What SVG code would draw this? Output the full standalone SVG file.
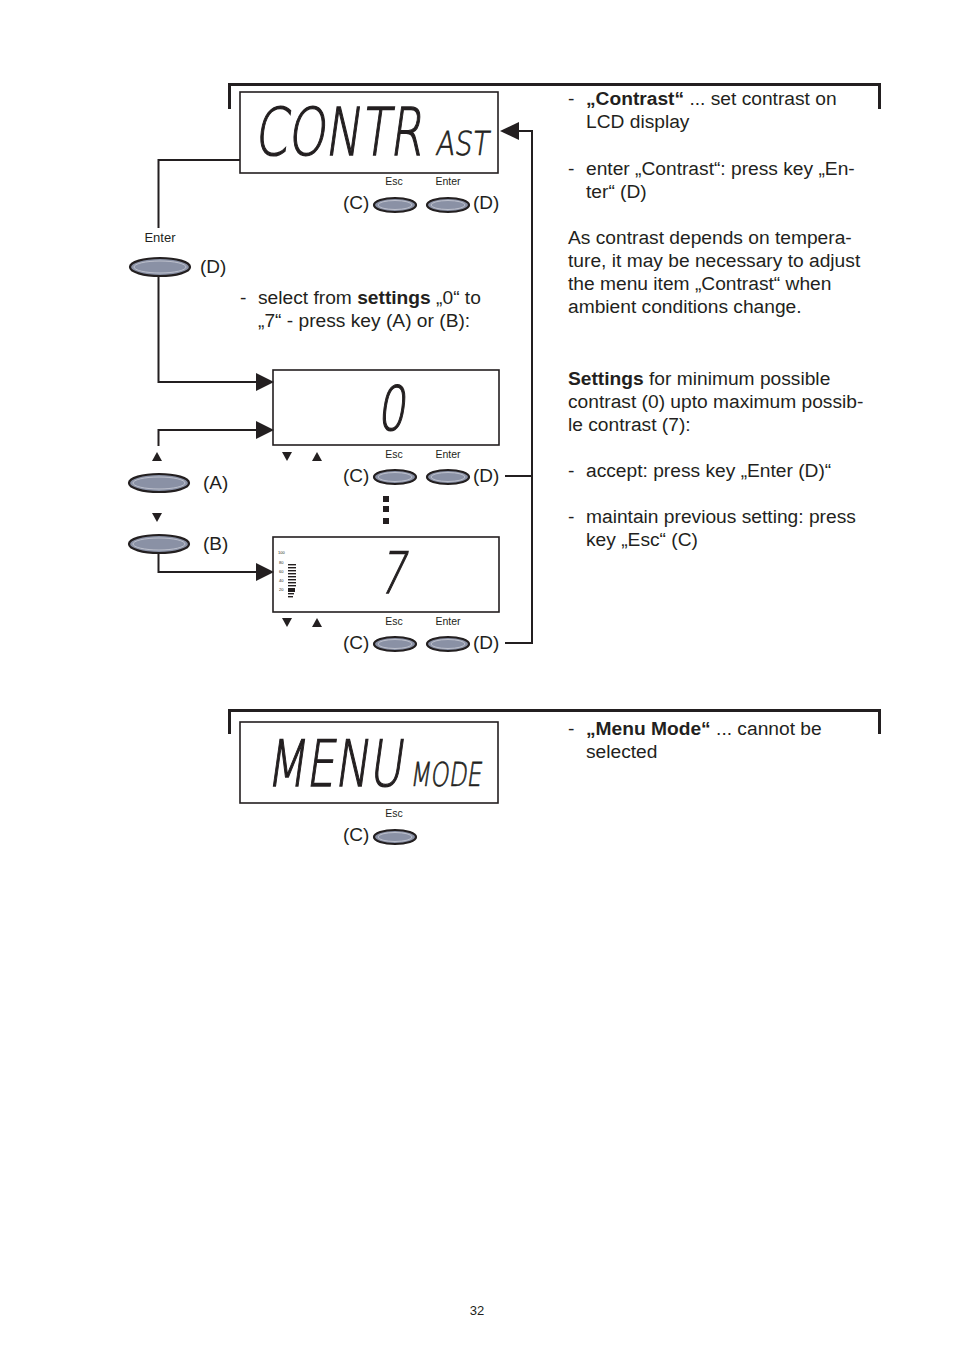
<svg xmlns="http://www.w3.org/2000/svg" width="954" height="1351" viewBox="0 0 954 1351">
<style>
.body{font-family:"Liberation Sans",Arial,sans-serif;font-size:19.2px;fill:#231f20}
.b{font-weight:bold}
.small{font-family:"Liberation Sans",Arial,sans-serif;font-size:10.5px;fill:#231f20}
.lbl{font-family:"Liberation Sans",Arial,sans-serif;font-size:19px;fill:#231f20}
.lcd{fill:none;stroke:#231f20;stroke-width:1.6}
.lcdt{font-family:"DejaVu Sans",sans-serif;font-weight:200;fill:#231f20;stroke:#231f20;stroke-width:1.3}
.lcds{font-family:"DejaVu Sans",sans-serif;font-weight:200;fill:#231f20;stroke:#231f20;stroke-width:0.7}
.bracket{fill:none;stroke:#231f20;stroke-width:3}
.conn{fill:none;stroke:#231f20;stroke-width:2}
.btn{fill:#8a91a5;stroke:#231f20;stroke-width:2.2}
.btnin{fill:none;stroke:#c9ccd6;stroke-width:0.8}
.tri{fill:#231f20}
</style>
<defs>
<g id="btnS"><ellipse class="btn" cx="0" cy="0" rx="21" ry="7"/><ellipse class="btnin" cx="0" cy="0" rx="17" ry="4.5"/></g>
<g id="btnL"><ellipse class="btn" cx="0" cy="0" rx="30" ry="9"/><ellipse class="btnin" cx="0" cy="0" rx="26" ry="6"/></g>
</defs>
<rect width="954" height="1351" fill="#ffffff"/>

<!-- Section 1 bracket -->
<path class="bracket" d="M229.500,109 V84.500 H879.500 V109"/>

<g id="lcd-contrast">
<rect class="lcd" x="240" y="92" width="258" height="81"/>
<text class="lcdt" transform="translate(254,155) skewX(-8)" font-size="66" textLength="168" lengthAdjust="spacingAndGlyphs">CONTR</text>
<text class="lcds" transform="translate(435,155) skewX(-8)" font-size="33" textLength="53" lengthAdjust="spacingAndGlyphs">AST</text>
</g>

<g id="keys-1">
<text class="small" x="394" y="185" text-anchor="middle">Esc</text>
<text class="small" x="448" y="185" text-anchor="middle">Enter</text>
<use href="#btnS" x="395" y="205"/>
<use href="#btnS" x="448" y="205"/>
<text class="lbl" x="343" y="209">(C)</text>
<text class="lbl" x="473" y="209">(D)</text>
</g>

<g id="key-enter">
<text x="160" y="242" text-anchor="middle" style="font-family:'Liberation Sans',Arial,sans-serif;font-size:13px;fill:#231f20">Enter</text>
<use href="#btnL" x="160" y="267"/>
<text class="lbl" x="200" y="273">(D)</text>
</g>

<g id="select-text">
<text class="body" x="240" y="304">-<tspan x="258">select from </tspan><tspan class="b">settings</tspan> „0“ to</text>
<text class="body" x="258" y="327">„7“ - press key (A) or (B):</text>
</g>

<g id="lcd-0">
<rect class="lcd" x="273" y="370" width="226" height="75"/>
<text class="lcdt" transform="translate(377,430) skewX(-8)" font-size="61" textLength="28" lengthAdjust="spacingAndGlyphs">0</text>
</g>

<g id="keys-2">
<polygon class="tri" points="282,452 292,452 287,461"/>
<polygon class="tri" points="312,461 322,461 317,452"/>
<text class="small" x="394" y="458" text-anchor="middle">Esc</text>
<text class="small" x="448" y="458" text-anchor="middle">Enter</text>
<use href="#btnS" x="395" y="477"/>
<use href="#btnS" x="448" y="477"/>
<text class="lbl" x="343" y="482">(C)</text>
<text class="lbl" x="473" y="482">(D)</text>
</g>

<g id="key-a">
<polygon class="tri" points="152,461 162,461 157,452"/>
<use href="#btnL" x="159" y="483"/>
<text class="lbl" x="203" y="489">(A)</text>
</g>

<g id="key-b">
<polygon class="tri" points="152,513 162,513 157,522"/>
<use href="#btnL" x="159" y="544"/>
<text class="lbl" x="203" y="550">(B)</text>
</g>

<g id="dots">
<rect x="383" y="496" width="6" height="6" fill="#231f20"/>
<rect x="383" y="506" width="6" height="6" fill="#231f20"/>
<rect x="383" y="518" width="6" height="6" fill="#231f20"/>
</g>

<g id="lcd-7">
<rect class="lcd" x="273" y="537" width="226" height="75"/>
<text class="lcdt" transform="translate(378,593) skewX(-12)" font-size="57" textLength="26" lengthAdjust="spacingAndGlyphs">7</text>
<g font-family="Liberation Sans,Arial,sans-serif" font-size="4" fill="#231f20">
<text x="278" y="554">100</text>
<text x="279" y="564">80</text>
<text x="279" y="573">60</text>
<text x="279" y="582">40</text>
<text x="279" y="591">20</text>
</g>
<g fill="#231f20">
<rect x="288" y="564" width="8" height="1.4"/>
<rect x="288" y="567" width="8" height="1.4"/>
<rect x="288" y="570" width="8" height="1.4"/>
<rect x="288" y="573" width="8" height="1.4"/>
<rect x="288" y="576" width="8" height="1.4"/>
<rect x="288" y="579" width="8" height="1.4"/>
<rect x="288" y="582" width="8" height="1.4"/>
<rect x="288" y="585" width="8" height="1.4"/>
<rect x="288" y="588" width="7" height="4"/>
<rect x="288" y="593" width="6" height="1.4"/>
<rect x="288" y="596" width="5" height="1.4"/>
</g>
</g>

<g id="keys-3">
<polygon class="tri" points="282,618 292,618 287,627"/>
<polygon class="tri" points="312,627 322,627 317,618"/>
<text class="small" x="394" y="625" text-anchor="middle">Esc</text>
<text class="small" x="448" y="625" text-anchor="middle">Enter</text>
<use href="#btnS" x="395" y="644"/>
<use href="#btnS" x="448" y="644"/>
<text class="lbl" x="343" y="649">(C)</text>
<text class="lbl" x="473" y="649">(D)</text>
</g>

<g id="connectors">
<path class="conn" d="M240,160 H158.500 V228"/>
<path class="conn" d="M158.500,277 V382 H258"/>
<polygon class="tri" points="256,373 274,382 256,391"/>
<path class="conn" d="M158.500,446 V430 H258"/>
<polygon class="tri" points="256,421 274,430 256,439"/>
<path class="conn" d="M158.500,553 V572 H258"/>
<polygon class="tri" points="256,563 274,572 256,581"/>
<path class="conn" d="M505,476 H532"/>
<path class="conn" d="M505,643 H532 V131 H515"/>
<polygon class="tri" points="519,122 500,131 519,140"/>
</g>

<g id="text-contrast">
<text class="body" x="568" y="105">-<tspan x="586" class="b">„Contrast“</tspan> ... set contrast on</text>
<text class="body" x="586" y="128">LCD display</text>
<text class="body" x="568" y="175">-<tspan x="586">enter „Contrast“: press key „En-</tspan></text>
<text class="body" x="586" y="198">ter“ (D)</text>
<text class="body" x="568" y="244">As contrast depends on tempera-</text>
<text class="body" x="568" y="267">ture, it may be necessary to adjust</text>
<text class="body" x="568" y="290">the menu item „Contrast“ when</text>
<text class="body" x="568" y="313">ambient conditions change.</text>
<text class="body" x="568" y="385"><tspan class="b">Settings</tspan> for minimum possible</text>
<text class="body" x="568" y="408">contrast (0) upto maximum possib-</text>
<text class="body" x="568" y="431">le contrast (7):</text>
<text class="body" x="568" y="477">-<tspan x="586">accept: press key „Enter (D)“</tspan></text>
<text class="body" x="568" y="523">-<tspan x="586">maintain previous setting: press</tspan></text>
<text class="body" x="586" y="546">key „Esc“ (C)</text>
</g>

<!-- Section 2 -->
<path class="bracket" d="M229.500,734 V710.500 H879.500 V734"/>

<g id="lcd-menu">
<rect class="lcd" x="240" y="722" width="258" height="81"/>
<text class="lcdt" transform="translate(266,786) skewX(-8)" font-size="64" textLength="136" lengthAdjust="spacingAndGlyphs">MENU</text>
<text class="lcds" transform="translate(410,786) skewX(-8)" font-size="33" textLength="71" lengthAdjust="spacingAndGlyphs">MODE</text>
</g>

<g id="keys-menu">
<text class="small" x="394" y="817" text-anchor="middle">Esc</text>
<use href="#btnS" x="395" y="837"/>
<text class="lbl" x="343" y="841">(C)</text>
</g>

<g id="text-menu">
<text class="body" x="568" y="735">-<tspan x="586" class="b">„Menu Mode“</tspan> ... cannot be</text>
<text class="body" x="586" y="758">selected</text>
</g>

<text id="page" x="477" y="1315" text-anchor="middle" font-family="Liberation Sans,Arial,sans-serif" font-size="13" fill="#231f20">32</text>
</svg>
